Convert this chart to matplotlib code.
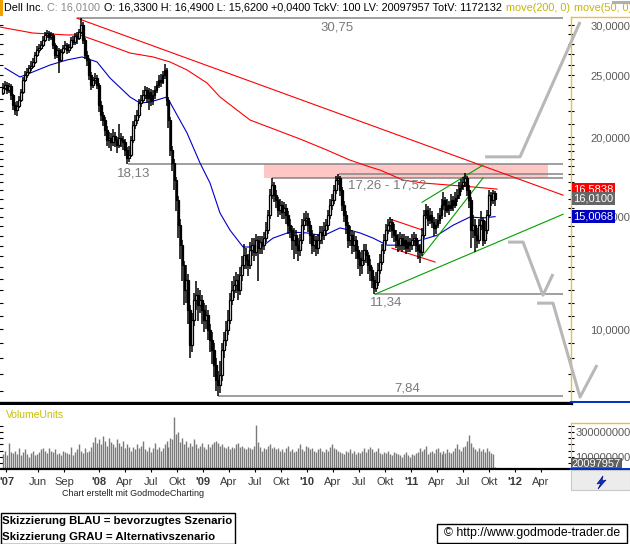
import numpy as np
import pandas as pd
import matplotlib
matplotlib.use('Agg')
import matplotlib.pyplot as plt
import matplotlib.transforms as mtrans
from matplotlib.patches import Rectangle, Polygon
from matplotlib.lines import Line2D
from matplotlib.ticker import FixedLocator, NullFormatter, FuncFormatter

plt.rcParams['font.family'] = ['Liberation Sans', 'DejaVu Sans']

W, H = 630, 544

# weekly bars (Dell Inc.)
close = [23.90, 24.16, 23.72, 24.07, 23.30, 22.47, 22.07, 22.39, 22.88, 23.55,
         24.60, 25.05, 25.32, 25.68, 25.87, 26.25, 26.93, 27.42, 27.62, 27.92,
         28.43, 28.95, 29.16, 28.74, 28.95, 27.92, 26.93, 27.42, 26.44, 27.22,
         27.62, 27.92, 27.42, 27.72, 28.43, 28.22, 28.85, 28.64, 29.27, 30.00,
         28.43, 26.93, 26.44, 25.05, 24.16, 24.60, 24.78, 24.16, 22.47, 21.67,
         21.28, 20.53, 19.80, 19.94, 19.66, 20.09, 19.80, 19.44, 19.94, 19.80,
         19.66, 19.09, 18.55, 18.75, 19.80, 20.90, 21.28, 21.67, 22.63, 22.88,
         23.30, 23.72, 23.05, 23.55, 22.88, 23.30, 23.72, 24.16, 24.60, 24.42,
         25.05, 25.50, 22.88, 21.28, 19.09, 18.21, 17.13, 15.93, 14.55, 13.54,
         12.59, 11.51, 11.93, 10.71, 9.44, 10.33, 11.10, 11.30, 10.90, 11.10,
         10.71, 10.33, 10.52, 9.96, 9.61, 9.27, 8.78, 8.32, 8.17, 8.47,
         9.27, 9.61, 9.96, 10.33, 11.10, 11.51, 11.72, 11.93, 11.51, 12.15,
         12.59, 13.06, 12.82, 12.59, 13.29, 13.54, 13.20, 13.78, 13.39, 13.68,
         13.54, 13.88, 14.29, 15.09, 16.22, 16.82, 16.22, 15.93, 15.36, 15.64,
         15.25, 15.47, 15.09, 14.55, 14.29, 13.78, 14.03, 13.54, 13.29, 13.78,
         14.55, 14.82, 14.93, 14.55, 14.03, 13.54, 13.78, 13.39, 13.78, 14.19,
         14.03, 14.29, 14.55, 15.09, 15.64, 15.93, 16.52, 17.13, 17.25, 16.52,
         15.64, 15.09, 14.55, 13.78, 14.03, 13.54, 13.78, 13.29, 12.91, 12.59,
         12.82, 13.29, 13.06, 12.59, 12.37, 11.93, 11.59, 11.85, 12.37, 12.73,
         13.29, 13.78, 14.29, 14.55, 14.71, 14.29, 14.03, 13.78, 13.54, 13.88,
         13.54, 13.78, 13.39, 13.68, 13.54, 13.78, 13.88, 13.54, 13.29, 13.20,
         14.03, 15.09, 15.36, 14.82, 15.09, 14.71, 14.39, 14.55, 14.82, 15.09,
         15.64, 15.93, 15.36, 15.64, 15.47, 15.93, 15.64, 16.05, 16.22, 16.64,
         16.82, 17.01, 17.25, 16.52, 15.93, 14.29, 14.55, 14.03, 13.78, 14.55,
         14.82, 13.78, 14.29, 15.09, 16.22, 15.93, 16.33, 16.01]
high = [24.30, 24.50, 24.40, 24.30, 24.20, 23.40, 22.70, 22.80, 23.20, 23.80,
        24.90, 25.40, 25.70, 26.00, 26.30, 26.60, 27.20, 27.80, 28.00, 28.30,
        28.80, 29.30, 29.50, 29.40, 29.30, 29.10, 28.10, 27.80, 27.60, 27.50,
        27.90, 28.30, 28.10, 28.00, 28.70, 28.80, 29.10, 29.20, 29.60, 30.75,
        30.30, 28.60, 27.30, 26.60, 25.30, 24.90, 25.20, 25.00, 24.30, 22.80,
        21.90, 21.50, 20.80, 20.40, 20.30, 20.60, 20.40, 20.00, 21.00, 20.30,
        20.10, 19.90, 19.30, 19.40, 20.10, 21.20, 21.70, 22.10, 23.00, 23.30,
        23.70, 24.10, 24.00, 23.90, 23.80, 23.70, 24.10, 24.50, 25.00, 25.10,
        25.40, 26.10, 25.70, 23.10, 21.50, 19.40, 18.50, 17.30, 16.20, 14.90,
        13.80, 12.80, 12.60, 12.20, 10.90, 10.60, 11.40, 11.90, 11.60, 11.50,
        11.30, 11.00, 10.90, 10.70, 10.20, 9.90, 9.50, 9.00, 8.60, 8.90,
        9.50, 9.90, 10.30, 10.70, 11.40, 11.90, 12.10, 12.30, 12.20, 12.50,
        13.00, 13.60, 13.40, 13.10, 13.70, 13.90, 13.90, 14.10, 14.00, 14.00,
        14.00, 14.20, 14.70, 15.40, 16.60, 17.26, 17.00, 16.50, 16.10, 16.00,
        15.90, 15.80, 15.70, 15.30, 14.90, 14.50, 14.40, 14.30, 13.90, 14.10,
        14.90, 15.20, 15.30, 15.20, 14.80, 14.30, 14.10, 14.00, 14.10, 14.50,
        14.50, 14.70, 14.90, 15.40, 16.00, 16.30, 16.80, 17.40, 17.52, 17.40,
        16.70, 15.90, 15.30, 14.70, 14.50, 14.30, 14.20, 14.00, 13.50, 13.20,
        13.30, 13.60, 13.60, 13.20, 12.90, 12.50, 12.10, 12.30, 12.70, 13.10,
        13.60, 14.10, 14.60, 14.90, 15.00, 14.90, 14.60, 14.30, 14.10, 14.20,
        14.10, 14.10, 14.00, 14.00, 13.90, 14.10, 14.20, 14.10, 13.80, 13.60,
        14.40, 15.40, 15.70, 15.60, 15.50, 15.30, 15.00, 14.90, 15.20, 15.50,
        16.00, 16.40, 16.10, 16.00, 15.90, 16.30, 16.20, 16.40, 16.60, 17.00,
        17.20, 17.30, 17.60, 17.40, 16.80, 16.10, 15.10, 14.90, 14.40, 14.90,
        15.30, 15.00, 14.80, 15.40, 16.50, 16.40, 16.50, 16.49]
low = [23.30, 23.70, 23.40, 23.50, 22.90, 22.10, 21.70, 21.60, 22.20, 22.70,
       23.40, 24.40, 24.80, 25.10, 25.40, 25.70, 26.10, 26.70, 27.10, 27.40,
       27.70, 28.20, 28.60, 28.30, 28.40, 27.50, 26.50, 26.60, 25.20, 26.20,
       27.00, 27.40, 27.00, 27.10, 27.50, 27.90, 27.90, 28.00, 28.40, 29.00,
       28.00, 26.50, 25.90, 24.60, 23.70, 23.90, 24.20, 23.80, 21.90, 21.20,
       20.80, 20.10, 19.40, 19.20, 19.00, 19.40, 19.30, 18.90, 19.20, 19.30,
       19.10, 18.70, 18.13, 18.30, 18.60, 19.60, 20.60, 21.00, 21.40, 22.30,
       22.60, 23.00, 22.60, 22.10, 22.40, 22.50, 23.00, 23.50, 23.90, 24.00,
       24.20, 24.70, 22.40, 20.70, 18.70, 17.70, 16.50, 15.30, 13.90, 12.90,
       11.90, 10.90, 11.00, 10.20, 9.00, 9.20, 10.10, 10.70, 10.30, 10.60,
       10.20, 9.90, 10.00, 9.60, 9.20, 8.80, 8.40, 8.00, 7.84, 7.95,
       8.30, 9.00, 9.40, 9.80, 10.20, 10.90, 11.20, 11.40, 11.10, 11.30,
       11.90, 12.40, 12.40, 12.10, 12.40, 13.00, 12.80, 13.00, 11.90, 13.10,
       13.10, 13.30, 13.70, 14.10, 14.90, 16.00, 15.80, 15.50, 15.00, 15.10,
       14.90, 14.90, 14.60, 14.10, 13.90, 13.30, 12.90, 13.10, 12.80, 13.00,
       13.60, 14.30, 14.50, 14.20, 13.60, 13.10, 13.20, 13.00, 13.10, 13.60,
       13.60, 13.80, 14.00, 14.30, 14.90, 15.40, 15.70, 16.30, 16.80, 16.20,
       15.30, 14.70, 14.10, 13.40, 13.50, 13.10, 13.20, 12.90, 12.40, 12.10,
       12.20, 12.60, 12.70, 12.20, 11.90, 11.60, 11.34, 11.45, 11.70, 12.20,
       12.60, 13.10, 13.60, 14.10, 14.20, 13.90, 13.70, 13.40, 13.20, 13.30,
       13.20, 13.30, 13.10, 13.20, 13.20, 13.30, 13.50, 13.20, 12.90, 12.70,
       13.00, 13.90, 14.90, 14.50, 14.60, 14.40, 14.00, 14.10, 14.40, 14.60,
       14.90, 15.40, 15.00, 15.20, 15.10, 15.30, 15.30, 15.50, 15.80, 16.00,
       16.40, 16.50, 16.70, 16.20, 15.50, 13.40, 13.90, 13.20, 13.40, 13.60,
       14.30, 13.50, 13.60, 14.10, 15.00, 15.60, 15.70, 15.62]
# weekly volume, millions
volume = [120, 150, 110, 210, 140, 130, 150, 120, 170, 110, 140, 160, 120, 100,
          130, 150, 110, 120, 140, 160, 170, 150, 130, 170, 150, 140, 160, 120, 130, 110,
          150, 140, 130, 120, 180, 110, 140, 160, 200, 150, 130, 170, 140, 150,
          180, 220, 260, 210, 240, 200, 270, 230, 190, 250, 220, 200, 180, 240, 210, 190,
          230, 170, 200, 180,
          150, 180, 160, 200, 170, 190, 230, 160, 150, 180, 140, 170, 210, 160, 180, 150,
          170, 200, 230, 180,
          250, 240, 420, 280, 300, 220, 250, 200, 230, 180, 210, 190, 240, 200, 170, 190,
          210, 180, 160, 200,
          180, 200, 220, 230, 210, 190, 200, 180, 170, 190, 160, 180, 170, 200, 210, 180,
          190, 170, 160, 180,
          170, 160, 190, 360, 220, 180, 150, 170, 160, 190, 200, 170, 180, 160, 170, 150,
          160, 140, 170, 190,
          150, 160, 140, 150, 170, 200, 160, 150, 190, 180, 160, 170, 150, 140, 160, 170,
          150, 140, 160, 150,
          180, 200, 170, 160, 150, 140, 130, 120, 150, 140, 160, 130, 150, 120, 140, 130,
          150, 170, 140, 160,
          180, 160, 140, 150, 170, 130, 120, 140, 130, 150, 120, 110, 140, 130, 120, 110,
          100, 120, 140, 110,
          100, 120, 110, 130, 140, 170, 150, 160, 190, 120, 140, 150, 130, 160, 170, 140,
          120, 150, 130, 160,
          140, 130, 150, 170, 200, 160, 150, 180, 190, 230, 275, 210, 180, 160, 150, 170,
          150, 160, 140, 170,
          150, 130, 120, 20]
dates = pd.date_range('2007-01-29', periods=len(close), freq='7D')

# moving averages (decimal year, price)
ma200_t = [2007.048, 2007.365, 2007.692, 2007.817, 2008.010, 2008.298, 2008.519, 2008.683,
           2008.846, 2009.038, 2009.163, 2009.452, 2009.933, 2010.192, 2010.413, 2010.606,
           2010.702, 2010.923, 2011.115, 2011.375, 2011.596, 2011.827]
ma200 = [29.78, 29.14, 28.94, 28.94, 28.21, 27.11, 26.73, 26.25, 25.50, 24.33, 23.13,
         21.28, 19.87, 19.09, 18.41, 17.96, 17.76, 17.13, 16.95, 16.82, 16.71, 16.58]
ma50_t = [2007.096, 2007.240, 2007.365, 2007.529, 2007.692, 2007.837, 2007.981, 2008.106,
          2008.298, 2008.394, 2008.490, 2008.654, 2008.846, 2008.971, 2009.067, 2009.163,
          2009.260, 2009.385, 2009.452, 2009.548, 2009.673, 2009.837, 2010.000, 2010.154,
          2010.317, 2010.413, 2010.510, 2010.635, 2010.769, 2010.923, 2011.087, 2011.250,
          2011.404, 2011.567, 2011.692, 2011.808]
ma50 = [25.68, 24.86, 25.32, 25.96, 26.44, 26.73, 26.25, 24.77, 23.13, 22.63, 22.71,
        23.13, 20.31, 18.22, 16.95, 15.21, 14.29, 13.45, 13.45, 13.40, 13.89, 14.20,
        14.15, 14.00, 14.41, 14.29, 14.15, 13.89, 13.54, 13.54, 13.78, 14.03, 14.55,
        14.99, 14.94, 15.01]

# support / resistance levels
level_start = [2007.788, 2008.279, 2009.663, 2010.308, 2010.654, 2009.144]
level_value = [30.75, 18.13, 17.26, 17.52, 11.34, 7.84]
level_end = 2012.462
zone = (2009.587, 2012.317, 17.26, 18.13)

# trend lines (t0, t1, p0, p1)
red_trend = [(2007.788, 2012.462, 30.75, 16.22),
             (2010.798, 2011.115, 14.88, 14.29),
             (2010.817, 2011.231, 13.39, 12.74)]
green_trend = [(2010.654, 2012.462, 11.34, 15.14),
               (2011.106, 2011.692, 15.81, 18.08),
               (2011.106, 2011.692, 13.01, 17.26)]
# scenario sketches (grey)
scen_t = [[2011.712, 2012.048, 2012.625],
          [2011.933, 2012.077, 2012.269, 2012.365],
          [2012.212, 2012.365, 2012.625, 2012.788]]
scen_p = [[18.63, 18.63, 30.33],
          [13.69, 13.69, 11.30, 12.20],
          [10.98, 10.98, 7.82, 8.78]]

tick_pos = [2007.11, 2007.414, 2007.666, 2008.0, 2008.25, 2008.5, 2008.75,
            2009.0, 2009.25, 2009.5, 2009.75, 2010.0, 2010.25, 2010.5, 2010.75,
            2011.0, 2011.25, 2011.5, 2011.75, 2012.0, 2012.25]
tick_lab = ["'07", 'Jun', 'Sep', "'08", 'Apr', 'Jul', 'Okt', "'09", 'Apr', 'Jul', 'Okt',
            "'10", 'Apr', 'Jul', 'Okt', "'11", 'Apr', 'Jul', 'Okt', "'12", 'Apr']


def dec_year(d):
    d = pd.DatetimeIndex(d)
    return np.asarray(d.year + (d.dayofyear - 1) / 365.25)


def fx(px):
    return px / W


def fy(py):
    return 1 - py / H


t = dec_year(dates)
close = np.array(close)
high = np.array(high)
low = np.array(low)
opens = np.r_[23.50, close[:-1]]

fig = plt.figure(figsize=(W / 100, H / 100), dpi=100)
fig.patch.set_facecolor('white')

# ---------------- price panel
ax = fig.add_axes([0, fy(403), fx(571), (403 - 17) / H])
ax.set_yscale('log')
ax.set_ylim(7.654, 30.88)
ax.set_xlim(2007.048, 2012.538)

ax.add_patch(Rectangle((zone[0], zone[2]), zone[1] - zone[0], zone[3] - zone[2],
                       fc='#ffc6c6', ec='none', zorder=0))
ax.hlines(level_value, level_start, level_end, color='#858585', lw=1.1, zorder=1)

ax.plot(ma200_t, ma200, color='#ff0000', lw=0.8, zorder=2)
ax.plot(ma50_t, ma50, color='#0000c8', lw=0.8, zorder=2)
for t0, t1, p0, p1 in red_trend:
    ax.plot([t0, t1], [p0, p1], color='#ff0000', lw=0.8, zorder=2)
for t0, t1, p0, p1 in green_trend:
    ax.plot([t0, t1], [p0, p1], color='#00a000', lw=0.8, zorder=2)

up = close >= opens
lo_b = np.minimum(opens, close)
hi_b = np.maximum(opens, close)
ax.vlines(t, low, high, color='black', lw=1.1, zorder=3)
ax.bar(t[up], hi_b[up] - lo_b[up], bottom=lo_b[up], width=0.018, color='white',
       edgecolor='black', lw=0.9, zorder=4)
ax.bar(t[~up], hi_b[~up] - lo_b[~up], bottom=lo_b[~up], width=0.018, color='black',
       edgecolor='black', lw=0.9, zorder=4)

for st, sp in zip(scen_t, scen_p):
    ax.plot(st, sp, color='#b8b8b8', lw=2.2, solid_capstyle='butt', clip_on=False, zorder=6)

lab_kw = dict(color='#7a7a7a', fontsize=9.5, ha='center', va='center', zorder=5)
ax.text(2010.288, 29.68, '30,75', **lab_kw)
ax.text(2008.337, 17.57, '18,13', **lab_kw)
ax.text(2010.769, 16.77, '17,26 - 17,52', **lab_kw)
ax.text(2010.760, 10.99, '11,34', **lab_kw)
ax.text(2010.962, 8.08, '7,84', **lab_kw)

minor = [v / 2 for v in range(15, 41)] + list(range(21, 31))
ax.yaxis.set_major_locator(FixedLocator([10, 15, 20, 25, 30]))
ax.yaxis.set_major_formatter(FuncFormatter(lambda v, p: f'{v:.4f}'.replace('.', ',')))
ax.yaxis.set_minor_locator(FixedLocator(minor))
ax.yaxis.set_minor_formatter(NullFormatter())
ax.tick_params(axis='y', which='both', left=True, right=True, labelleft=False,
               labelright=True, direction='inout', length=4, width=0.8,
               color='black', labelcolor='#5a5a5a', labelsize=8, pad=12)
ax.set_xticks([])
for s in ('left', 'top'):
    ax.spines[s].set_visible(False)
ax.spines['right'].set_color('#e8c040')
ax.spines['right'].set_linewidth(1.0)
ax.spines['bottom'].set_color('black')
ax.spines['bottom'].set_linewidth(2.4)

tr = mtrans.blended_transform_factory(ax.transAxes, ax.transData)
box_kw = dict(transform=tr, fontsize=8, color='white', ha='left', va='center', zorder=8)
ax.text(1.0045, 16.58, '16,5838', bbox=dict(boxstyle='square,pad=0.12', fc='#ff0000', ec='none'), **box_kw)
ax.text(1.0045, 16.01, '16,0100', bbox=dict(boxstyle='square,pad=0.12', fc='#666666', ec='none'), **box_kw)
ax.text(1.0045, 15.0068, '15,0068', bbox=dict(boxstyle='square,pad=0.12', fc='#0000c0', ec='none'), **box_kw)

# ---------------- volume panel
axv = fig.add_axes([0, fy(469), fx(571), 64 / H])
axv.set_xlim(2007.048, 2012.538)
axv.set_ylim(0, 519)
axv.vlines(t, 0, volume, color='#7a7a7a', lw=1.0)
axv.yaxis.set_major_locator(FixedLocator([100, 300]))
axv.yaxis.set_major_formatter(FuncFormatter(lambda v, p: f'{int(v)}000000'))
axv.yaxis.set_minor_locator(FixedLocator([50, 150, 200, 250, 350]))
axv.tick_params(axis='y', which='both', left=True, right=True, labelleft=False,
                labelright=True, direction='inout', length=4, width=0.8,
                color='black', labelcolor='#5a5a5a', labelsize=8, pad=1)
axv.set_xticks(tick_pos, tick_lab)
axv.tick_params(axis='x', direction='out', length=2.5, width=0.8, labelsize=8,
                labelcolor='#3a3a3a', pad=3)
for lab in axv.get_xticklabels():
    if lab.get_text().startswith("'"):
        lab.set_fontweight('bold')
for s in ('left', 'top'):
    axv.spines[s].set_visible(False)
axv.spines['right'].set_color('#e8c040')
axv.spines['right'].set_bounds(0, 373)
axv.spines['bottom'].set_linewidth(1.6)
axv.text(1.0015, 0.0, '20097957', transform=axv.transAxes, fontsize=8, color='white',
         ha='left', va='bottom', zorder=8,
         bbox=dict(boxstyle='square,pad=0.12', fc='#606060', ec='none'))
fig.text(fx(6), fy(415), 'VolumeUnits', color='#c8c000', fontsize=7.5, va='center')

# ---------------- frame pieces on the right
fig.add_artist(Line2D([fx(571), fx(630)], [fy(17), fy(17)], color='#e8c040', lw=1.0))
fig.add_artist(Line2D([fx(571), fx(630)], [fy(402), fy(402)], color='#0030c8', lw=1.4))
fig.add_artist(Line2D([fx(571), fx(630)], [fy(423), fy(423)], color='#e8c040', lw=1.0))
fig.add_artist(Line2D([fx(571), fx(630)], [fy(469), fy(469)], color='#0030c8', lw=1.4))
fig.add_artist(Rectangle((fx(571), fy(490)), fx(59), 20 / H, transform=fig.transFigure,
                         fc='#ececec', ec='#c8c8c8', lw=0.8))
fig.add_artist(Polygon([[fx(603), fy(476)], [fx(597), fy(484)], [fx(601), fy(483)],
                        [fx(598), fy(489)], [fx(606), fy(480)], [fx(602), fy(481)]],
                       closed=True, transform=fig.transFigure, fc='#1030d0', ec='#001080', lw=0.5))

# ---------------- header
fig.add_artist(Rectangle((0, fy(16)), fx(3), 16 / H, transform=fig.transFigure,
                         fc='#f0a000', ec='none'))
fig.add_artist(Rectangle((fx(612), fy(4)), fx(18), 3 / H, transform=fig.transFigure,
                         fc='#b0b0b0', ec='none'))
header = [('Dell Inc.', 'black'), ('C: 16,0100', '#8a8a8a'),
          ('O: 16,3300 H: 16,4900 L: 15,6200 +0,0400 TckV: 100 LV: 20097957 TotV: 1172132', 'black'),
          ('move(200, 0)', '#c8b400'), ('move(50, 0)', '#c8b400')]
renderer = fig.canvas.get_renderer()
xpos = 4
for txt, col in header:
    tt = fig.text(fx(xpos), fy(8), txt, color=col, fontsize=7.8, ha='left', va='center')
    bb = tt.get_window_extent(renderer=renderer)
    xpos = bb.x1 + 3.8

# ---------------- footer
fig.text(fx(62), fy(494), 'Chart erstellt mit GodmodeCharting', fontsize=6.5,
         color='#222222', va='center')
fig.add_artist(Rectangle((fx(0.5), fy(543.5)), fx(234), 31 / H, transform=fig.transFigure,
                         fc='white', ec='black', lw=1.0))
fig.text(fx(2.5), fy(521), 'Skizzierung BLAU = bevorzugtes Szenario', fontsize=8.2,
         fontweight='bold', va='center')
fig.text(fx(2.5), fy(537), 'Skizzierung GRAU = Alternativszenario', fontsize=8.2,
         fontweight='bold', va='center')
fig.add_artist(Rectangle((fx(437), fy(543)), fx(190), 19 / H, transform=fig.transFigure,
                         fc='white', ec='black', lw=1.0))
fig.text(fx(532), fy(533), '\u00a9 http://www.godmode-trader.de', fontsize=8.8,
         ha='center', va='center')

fig.savefig('out.png', dpi=100)
